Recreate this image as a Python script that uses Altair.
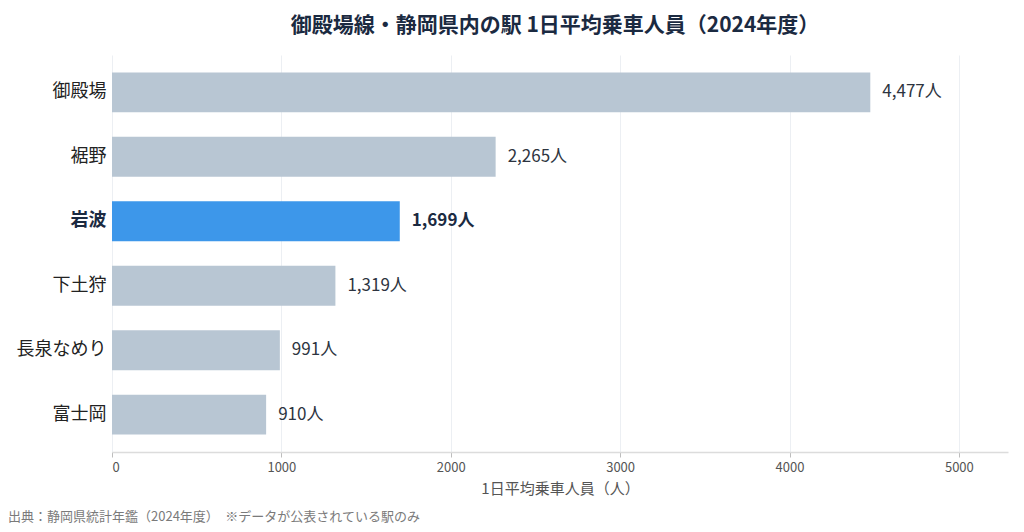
import altair as alt
import pandas as pd

stations = ["御殿場", "裾野", "岩波", "下土狩", "長泉なめり", "富士岡"]
riders = [4477, 2265, 1699, 1319, 991, 910]
highlight = "岩波"

df = pd.DataFrame({"station": stations, "riders": riders})
df["label"] = [f"{v:,}人" for v in riders]
df["hl"] = [s == highlight for s in stations]

FONT = "Noto Sans CJK JP"
W, H = 896, 397
XMAX = 5290

y_enc = alt.Y(
    "station:N",
    sort=stations,
    scale=alt.Scale(paddingInner=0.38, paddingOuter=0.27),
    axis=alt.Axis(
        title=None,
        domain=False,
        ticks=False,
        grid=False,
        labelPadding=6,
        labelFontSize=18,
        labelFont=FONT,
        labelColor={"condition": {"test": f"datum.value == '{highlight}'", "value": "#1b2a41"}, "value": "#222222"},
        labelFontWeight={"condition": {"test": f"datum.value == '{highlight}'", "value": "bold"}, "value": "normal"},
    ),
)

x_enc = alt.X(
    "riders:Q",
    scale=alt.Scale(domain=[0, XMAX], nice=False),
    axis=alt.Axis(
        title="1日平均乗車人員（人）",
        values=[0, 1000, 2000, 3000, 4000, 5000],
        format="d",
        grid=True,
        gridColor="#eceff3",
        gridWidth=1,
        domainColor="#dcdcdc",
        domainWidth=1.5,
        tickColor="#bdbdbd",
        tickSize=5,
        labelFontSize=13,
        labelFont=FONT,
        labelColor="#555555",
        labelPadding=4,
        titleFontSize=15,
        titleFont=FONT,
        titleColor="#555555",
        titleFontWeight="normal",
        titlePadding=7,
    ),
)

bars = alt.Chart(df).mark_bar().encode(
    x=x_enc,
    y=y_enc,
    color=alt.condition("datum.hl", alt.value("#3d97ea"), alt.value("#b8c6d3")),
)

labels_norm = alt.Chart(df).transform_filter("!datum.hl").mark_text(
    align="left", baseline="middle", dx=12, fontSize=17, font=FONT, color="#2d3440"
).encode(
    x="riders:Q",
    y=alt.Y("station:N", sort=stations),
    text="label:N",
)

labels_hl = alt.Chart(df).transform_filter("datum.hl").mark_text(
    align="left", baseline="middle", dx=12, fontSize=17, font=FONT, color="#1b2a41", fontWeight="bold"
).encode(
    x="riders:Q",
    y=alt.Y("station:N", sort=stations),
    text="label:N",
)

footer_df = pd.DataFrame({"t": ["出典：静岡県統計年鑑（2024年度）　※データが公表されている駅のみ"]})
footer = alt.Chart(footer_df).mark_text(
    align="left", baseline="middle", fontSize=13, font=FONT, color="#7a7a7a"
).encode(
    x=alt.value(-104),
    y=alt.value(H + 65),
    text="t:N",
)

chart = alt.layer(bars, labels_norm, labels_hl, footer).properties(
    width=W,
    height=H,
    title=alt.TitleParams(
        text="御殿場線・静岡県内の駅 1日平均乗車人員（2024年度）",
        font=FONT,
        fontSize=21,
        fontWeight="bold",
        color="#1b2a41",
        anchor="middle",
        offset=19,
        dx=-5,
    ),
    padding={"left": 104, "top": 47, "right": 8, "bottom": 72},
    autosize=alt.AutoSizeParams(type="none"),
).configure_view(stroke=None)

chart.save("out.html", embed_options={"renderer": "svg", "actions": False})
